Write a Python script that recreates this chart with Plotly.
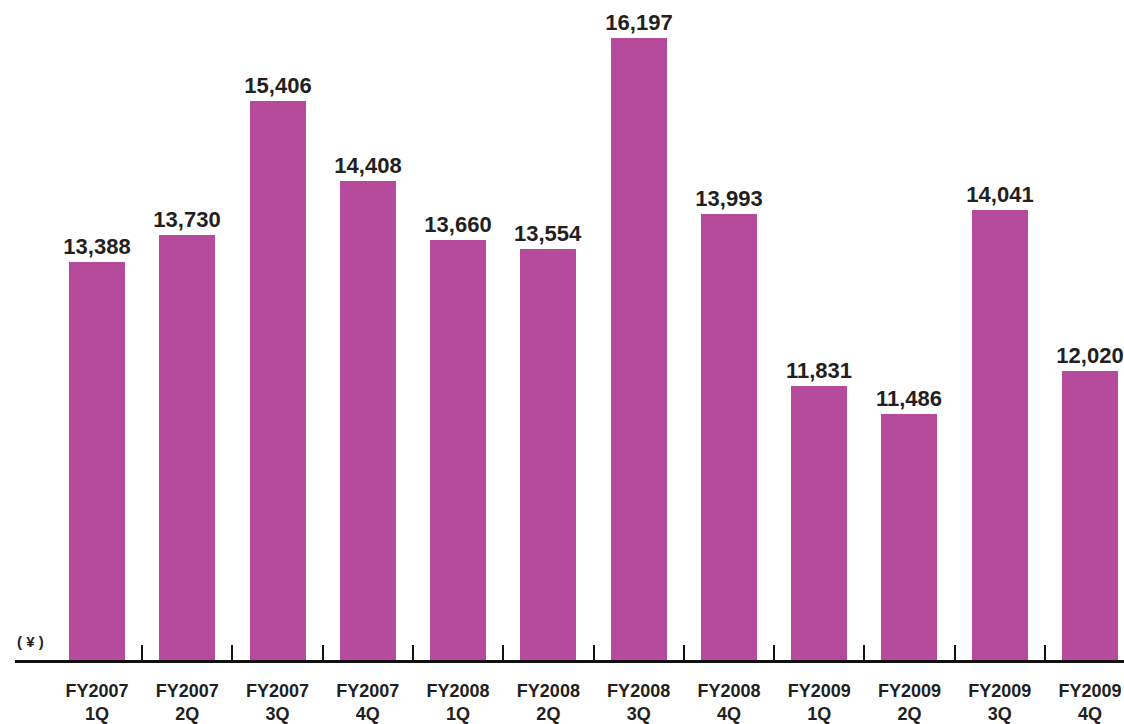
import plotly.graph_objects as go

# Quarterly values (yen)
categories = ["FY2007<br>1Q", "FY2007<br>2Q", "FY2007<br>3Q", "FY2007<br>4Q",
              "FY2008<br>1Q", "FY2008<br>2Q", "FY2008<br>3Q", "FY2008<br>4Q",
              "FY2009<br>1Q", "FY2009<br>2Q", "FY2009<br>3Q", "FY2009<br>4Q"]
values = [13388, 13730, 15406, 14408, 13660, 13554, 16197, 13993,
          11831, 11486, 14041, 12020]
unit_label = "( ¥ )"

BAR_COLOR = "#b74b9b"
TEXT_COLOR = "#231f20"
FONT = "Liberation Sans"

positions = list(range(len(categories)))
boundaries = [p + 0.5 for p in positions[:-1]]

fig = go.Figure(
    go.Bar(
        x=positions,
        y=values,
        width=0.62,
        marker=dict(color=BAR_COLOR, line=dict(width=0)),
        text=[f"{v:,}" for v in values],
        textposition="outside",
        constraintext="none",
        cliponaxis=False,
        textfont=dict(family=FONT, size=22, color=TEXT_COLOR, weight="bold"),
        hoverinfo="skip",
    )
)

fig.update_layout(
    width=1124,
    height=724,
    margin=dict(l=15, r=0, t=0, b=62),
    paper_bgcolor="white",
    plot_bgcolor="white",
    showlegend=False,
    bargap=0,
    xaxis=dict(
        range=[-0.9084, 11.3766],
        tickmode="array",
        tickvals=positions,
        ticktext=categories,
        ticks="",
        ticklabelstandoff=12,
        tickfont=dict(family=FONT, size=18, color=TEXT_COLOR, weight="bold"),
        showline=True,
        linecolor="#111111",
        linewidth=3,
        showgrid=False,
        zeroline=False,
        minor=dict(
            tickmode="array",
            tickvals=boundaries,
            ticks="inside",
            ticklen=15,
            tickwidth=2,
            tickcolor="#111111",
            showgrid=False,
        ),
    ),
    yaxis=dict(
        range=[8400, 16675],
        visible=False,
        showgrid=False,
        zeroline=False,
    ),
    annotations=[
        dict(
            text=unit_label,
            xref="paper", yref="paper",
            x=0, y=0,
            xanchor="left", yanchor="bottom",
            yshift=8,
            showarrow=False,
            font=dict(family=FONT, size=15, color=TEXT_COLOR, weight="bold"),
        )
    ],
)

fig.write_html("out.html")
